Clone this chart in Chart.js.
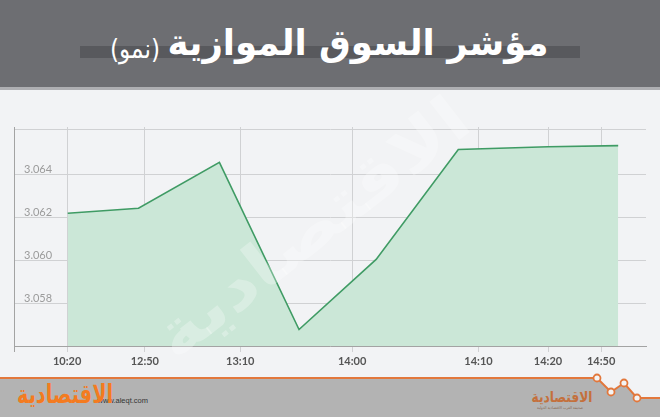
<!DOCTYPE html>
<html lang="ar">
<head>
<meta charset="UTF-8">
<meta name="viewport" content="width=device-width, initial-scale=1.0">
<title>مؤشر السوق الموازية (نمو)</title>
<script src="https://cdn.jsdelivr.net/npm/chart.js"></script>
<style>
  html, body { margin: 0; padding: 0; width: 660px; height: 417px; overflow: hidden; background: #f2f3f5; }
  #bg, #wm { position: absolute; left: 0; top: 0; }
  #wm { pointer-events: none; }
  #box { position: absolute; left: 0; top: 90px; width: 660px; height: 290px; }
</style>
</head>
<body>
<svg id="bg" width="660" height="417" xmlns="http://www.w3.org/2000/svg">
  <rect x="0" y="0" width="660" height="417" fill="#f2f3f5"/>
  <!-- header -->
  <rect x="0" y="0" width="660" height="87" fill="#6d6e72"/>
  <rect x="0" y="87" width="660" height="3" fill="#aeafb2"/>
  <rect x="80" y="46" width="500" height="12" fill="#58595d"/>
  <text x="358" y="55" text-anchor="middle" font-family="DejaVu Sans" font-weight="bold" font-size="36"
        fill="#ffffff" textLength="381" lengthAdjust="spacingAndGlyphs" direction="rtl">مؤشر السوق الموازية</text>
  <text x="135" y="58" text-anchor="middle" font-family="DejaVu Sans" font-size="27"
        fill="#ffffff" textLength="50" lengthAdjust="spacingAndGlyphs" direction="rtl">(نمو)</text>
  <!-- footer -->
  <polygon points="0,378 597,378 611,392 624,383 637,398 660,398 660,417 0,417" fill="#b3b3b3"/>
  <polyline points="0,378 597,378 611,392 624,383 637,398 660,398" fill="none" stroke="#e2773b" stroke-width="2"/>
  <circle cx="597" cy="378" r="3.5" fill="#f4f4f4" stroke="#e2773b" stroke-width="1.8"/>
  <circle cx="611" cy="392" r="3.5" fill="#f4f4f4" stroke="#e2773b" stroke-width="1.8"/>
  <circle cx="624" cy="383" r="3.5" fill="#f4f4f4" stroke="#e2773b" stroke-width="1.8"/>
  <circle cx="637" cy="398" r="3.5" fill="#f4f4f4" stroke="#e2773b" stroke-width="1.8"/>
  <text x="148" y="403" text-anchor="end" font-family="Liberation Sans" font-size="7.5" fill="#333333">www.aleqt.com</text>
  <text x="65" y="403" text-anchor="middle" font-family="DejaVu Sans" font-weight="bold" font-size="26"
        fill="#f47b20" textLength="96" lengthAdjust="spacingAndGlyphs" direction="rtl">الاقتصادية</text>
  <text x="562" y="402" text-anchor="middle" font-family="DejaVu Sans" font-weight="bold" font-size="15"
        fill="#c4703c" textLength="61" lengthAdjust="spacingAndGlyphs" direction="rtl">الاقتصادية</text>
  <text x="560" y="409" text-anchor="middle" font-family="DejaVu Sans" font-size="4"
        fill="#8a6a55" textLength="46" lengthAdjust="spacingAndGlyphs" direction="rtl">صحيفة العرب الاقتصادية الدولية</text>
</svg>
<div id="box"><canvas id="indexChart"></canvas></div>
<svg id="wm" width="660" height="417" xmlns="http://www.w3.org/2000/svg">
  <text x="0" y="0" text-anchor="middle" font-family="DejaVu Sans" font-weight="bold" font-size="64"
        fill="#ffffff" fill-opacity="0.28" textLength="380" lengthAdjust="spacingAndGlyphs" direction="rtl"
        transform="translate(325,245) rotate(-38)">الاقتصادية</text>
</svg>
<script>
    // x positions are in percent of the axis width (the time labels are not evenly spaced)
    const xLabels = ['', '10:20', '12:50', '13:10', '14:00', '14:10', '14:20', '14:50'];
    const xTickPos = [0, 8.4, 20.7, 35.8, 53.5, 73.5, 84.5, 92.9];
    const pointPos = [8.5, 19.7, 32.5, 45.1, 57.3, 70.3, 84.5, 95.6];
    const indexValues = [3.06221, 3.06244, 3.06459, 3.05677, 3.06005, 3.06519, 3.06532, 3.06537];
    const yTicks = [3.056, 3.058, 3.060, 3.062, 3.064, 3.0661];
    const yLabels = ['', '3.058', '3.060', '3.062', '3.064', ''];

    const ctx = document.getElementById('indexChart').getContext('2d');
    new Chart(ctx, {
        type: 'line',
        data: {
            datasets: [{
                data: pointPos.map((x, i) => ({ x: x, y: indexValues[i] })),
                borderColor: '#3f9b64',
                borderWidth: 1.6,
                backgroundColor: '#cbe7d7',
                fill: 'start',
                tension: 0,
                pointRadius: 0
            }]
        },
        options: {
            responsive: true,
            maintainAspectRatio: false,
            animation: false,
            layout: { padding: { left: 14, right: 14, top: 37, bottom: 0 } },
            plugins: { legend: { display: false }, tooltip: { enabled: false } },
            scales: {
                x: {
                    type: 'linear',
                    min: 0,
                    max: 100,
                    afterBuildTicks: s => { s.ticks = xTickPos.map(v => ({ value: v })); },
                    afterFit: s => { s.height = 34; },
                    grid: {
                        color: c => c.index === 0 ? '#a3a3a3' : '#d0d1d3',
                        tickLength: 6
                    },
                    border: { display: true, color: '#a3a3a3' },
                    ticks: {
                        autoSkip: false,
                        maxRotation: 0,
                        padding: 3,
                        color: '#555555',
                        font: { family: 'Lato', size: 11, weight: 'bold' },
                        callback: (v, i) => xLabels[i]
                    }
                },
                y: {
                    min: 3.056,
                    max: 3.06624,
                    afterBuildTicks: s => { s.ticks = yTicks.map(v => ({ value: v })); },
                    afterFit: s => { s.width = 0; },
                    grid: { color: '#d0d1d3', drawTicks: false },
                    border: { display: true, color: '#a3a3a3' },
                    ticks: {
                        mirror: true,
                        padding: 10,
                        labelOffset: -5,
                        color: '#9b9b9b',
                        font: { family: 'Lato', size: 11 },
                        callback: (v, i) => yLabels[i]
                    }
                }
            }
        }
    });
</script>
</body>
</html>
